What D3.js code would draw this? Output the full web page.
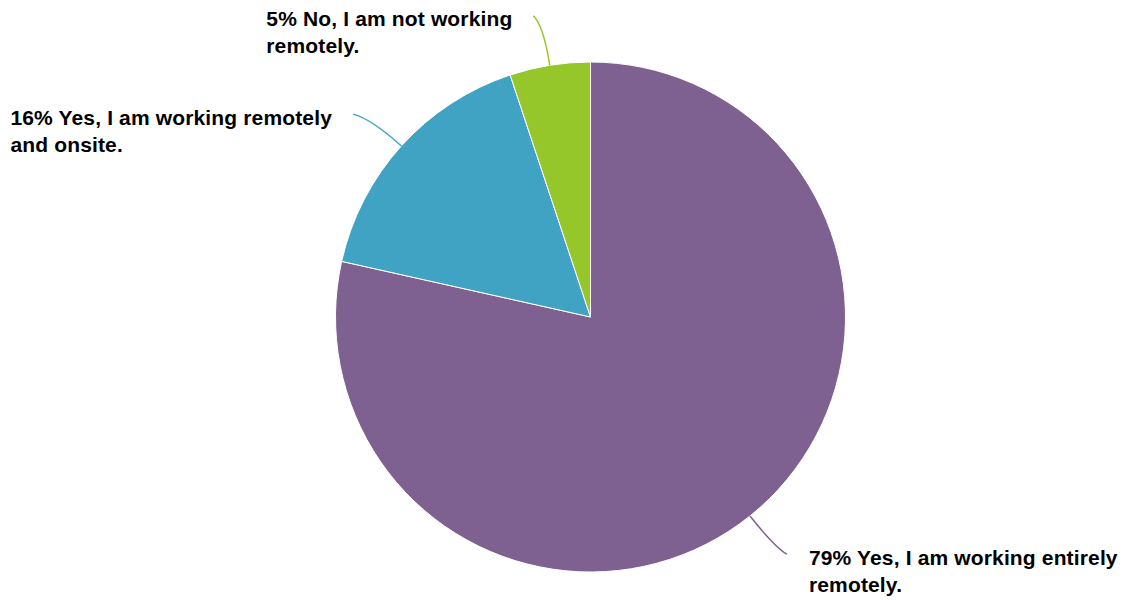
<!DOCTYPE html>
<html>
<head>
<meta charset="utf-8">
<script src="https://cdn.jsdelivr.net/npm/d3@7"></script>
<style>
  html, body { margin: 0; padding: 0; background: #fff; }
  svg { display: block; }
</style>
</head>
<body>
<svg id="chart" width="1126" height="600"></svg>
<script>
// ---- data ----
const categories = [
  "Yes, I am working entirely remotely.",
  "Yes, I am working remotely and onsite.",
  "No, I am not working remotely."
];
const values = [78.5, 16.4, 5.1];
// category text split into the two label lines (after the percentage)
const labelLines = [
  ["Yes, I am working entirely", "remotely."],
  ["Yes, I am working remotely", "and onsite."],
  ["No, I am not working", "remotely."]
];
const colors = ["#7e6190", "#41a3c3", "#96c72a"];

// ---- layout ----
const W = 1126, H = 600;
const cx = 590.5, cy = 317, R = 255;
const svg = d3.select("#chart");
const g = svg.append("g").attr("transform", `translate(${cx},${cy})`);

const data = categories.map((c, i) => ({ name: c, value: values[i], color: colors[i], lines: labelLines[i] }));

const pie = d3.pie().value(d => d.value).sort(null);
const arcs = pie(data);
const arc = d3.arc().innerRadius(0).outerRadius(R);

g.selectAll("path.slice")
  .data(arcs)
  .enter().append("path")
  .attr("class", "slice")
  .attr("d", arc)
  .attr("fill", d => d.data.color)
  .attr("stroke", "#fff")
  .attr("stroke-width", 1);

// leader lines and labels
const endOffsets = [[12, 7], [-18.5, -5], [-10, -10]];
const pt = (a, r) => [Math.sin(a) * r, -Math.cos(a) * r];

arcs.forEach((d, i) => {
  const mid = (d.startAngle + d.endAngle) / 2;
  const p0 = pt(mid, R);
  const c = pt(mid, 295);
  const e = [c[0] + endOffsets[i][0], c[1] + endOffsets[i][1]];
  const p = d3.path();
  p.moveTo(p0[0], p0[1]);
  p.quadraticCurveTo(c[0], c[1], e[0], e[1]);
  g.append("path")
    .attr("d", p.toString())
    .attr("fill", "none")
    .attr("stroke", d.data.color)
    .attr("stroke-width", 1.5);

  const right = e[0] > 0;
  const t = g.append("text")
    .attr("font-family", "'Liberation Sans', Arial, sans-serif")
    .attr("font-weight", "bold")
    .attr("font-size", 21)
    .attr("letter-spacing", 0.15)
    .attr("fill", "#000");
  const lines = d.data.lines.slice();
  lines[0] = Math.round(d.data.value) + "% " + lines[0];
  lines.forEach((ln, j) => {
    t.append("tspan").attr("x", 0).attr("y", j * 27).text(ln);
  });
  const bw = t.node().getBBox().width;
  const tx = right ? e[0] + 22 : e[0] - 21 - bw;
  const ty = e[1] + 10.5;
  t.attr("transform", `translate(${tx},${ty})`);
});
</script>
</body>
</html>
